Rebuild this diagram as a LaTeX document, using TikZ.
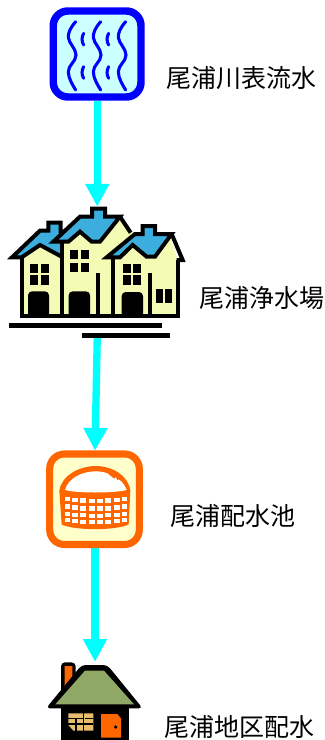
\documentclass[tikz,border=0pt]{standalone}
\usepackage{fontspec}
\newfontfamily\jpfont{Noto Sans CJK JP}
\usetikzlibrary{arrows.meta}
\definecolor{wblue}{HTML}{0000FF}
\definecolor{wfill}{HTML}{CCFFFF}
\definecolor{flow}{HTML}{00FFFF}
\definecolor{orng}{HTML}{FF6600}
\definecolor{cream}{HTML}{FFFFCC}
\definecolor{hwall}{HTML}{F4FBB4}
\definecolor{hroof}{HTML}{3BAEDD}
\definecolor{groof}{HTML}{8FA865}
\definecolor{tan}{HTML}{E6BE6E}
\tikzset{
  iconbox/.style={inner sep=0pt,outer sep=0pt,minimum width=#1},
  flowarrow/.style={draw=flow,line width=5.5pt,-{Triangle[width=17pt,length=17pt,fill=flow]}},
  lab/.style={font=\jpfont\fontsize{18.75pt}{20pt}\selectfont,anchor=west,inner sep=0pt,text=black},
  wave/.style={draw=wblue,line width=2.3pt,line cap=round},
  hline/.style={draw=black,line width=3pt,line join=miter},
}
\begin{document}
\begin{tikzpicture}[x=0.75pt,y=-0.75pt]
\useasboundingbox (0,0) rectangle (325,740);
% anchors for connectors
\node[iconbox=71.6pt,minimum height=70.5pt] (water) at (97.25,54) {};
\node[iconbox=131pt,minimum height=98.1pt] (plant) at (97.25,272) {};
\node[iconbox=72.8pt,minimum height=73pt] (tank) at (95,499.3) {};
\node[iconbox=72.8pt,minimum height=58.7pt] (home) at (95,700.9) {};

% connectors
\draw[flowarrow] (water.south) -- (plant.north);
\draw[flowarrow] (plant.south) -- (tank.north);
\draw[flowarrow] (tank.south) -- (home.north);

% water icon
\draw[draw=wblue,fill=wfill,line width=5.6pt,rounded corners=11pt] (53.25,11) rectangle (141,97);
\begin{scope}[shift={(0,0)},x=0.25pt,y=-0.25pt]
  \foreach \dx in {0,75,150}{
    \draw[wave] (227+\dx,65) .. controls (212+\dx,82) and (204+\dx,98) .. (205+\dx,112)
       .. controls (206+\dx,130) and (228+\dx,145) .. (228+\dx,165)
       .. controls (228+\dx,185) and (205+\dx,195) .. (205+\dx,215)
       .. controls (205+\dx,235) and (218+\dx,255) .. (227+\dx,270);
  }
  \foreach \dx/\dy in {0/0,75/0,0/100,75/100}{
    \draw[wave] (251+\dx,100+\dy) .. controls (244+\dx,112+\dy) and (245+\dx,125+\dy) .. (251+\dx,135+\dy);
  }
\end{scope}

% houses
\begin{scope}[shift={(0,200)},x=0.25pt,y=-0.25pt]
  \fill[hwall] (65,175) -- (120,135) -- (190,125) -- (240,95) -- (300,125) -- (360,55) -- (390,95) -- (510,115) -- (533,180) -- (533,348) -- (65,348) -- cycle;
  % left roof
  \draw[hline,fill=hroof] (36,172) -- (120,92) -- (145,92) -- (145,68) -- (182,68) -- (182,95) -- (215,95) -- (185,170) -- (120,135) -- (65,172) -- cycle;
  % centre wall
  \fill[hwall] (190,125) -- (240,95) -- (300,125) -- (360,60) -- (390,100) -- (340,170) -- (340,348) -- (190,348) -- cycle;
  % centre roof
  \draw[hline,fill=hroof] (160,125) -- (240,50) -- (276,50) -- (276,26) -- (315,26) -- (315,50) -- (360,50) -- (300,125) -- (275,125) -- (240,95) -- (205,125) -- cycle;
  \draw[hline] (360,50) -- (392,98);
  % right wall
  \fill[hwall] (340,172) -- (398,135) -- (440,170) -- (465,170) -- (510,112) -- (533,180) -- (533,348) -- (340,348) -- cycle;
  % right roof
  \draw[hline,fill=hroof] (320,172) -- (405,102) -- (428,102) -- (428,78) -- (465,78) -- (465,102) -- (515,102) -- (465,170) -- (440,170) -- (398,135) -- (360,172) -- cycle;
  \draw[hline] (515,102) -- (548,180) -- (530,180);
  % walls
  \draw[hline] (65,172) -- (65,348) -- (535,348) -- (535,180);
  \draw[hline] (187,125) -- (187,348);
  \draw[hline] (340,172) -- (340,348);
  \draw[hline] (295,220) -- (295,348);
  \draw[hline] (451,220) -- (451,348);
  % windows
  \fill (90,192) rectangle (114,219); \fill (123,192) rectangle (147,219);
  \fill (90,225) rectangle (114,255); \fill (123,225) rectangle (147,255);
  \fill (210,150) rectangle (234,177); \fill (243,150) rectangle (267,177);
  \fill (210,188) rectangle (234,216); \fill (243,188) rectangle (267,216);
  \fill (369,192) rectangle (393,219); \fill (399,192) rectangle (423,219);
  \fill (369,225) rectangle (393,255); \fill (399,225) rectangle (423,255);
  \fill (468,267) rectangle (490,309); \fill (495,267) rectangle (517,309);
  % doors
  \fill[rounded corners=3pt] (84,352) -- (84,274) -- (147,274) -- (147,352) -- cycle;
  \fill[rounded corners=3pt] (206,352) -- (206,274) -- (270,274) -- (270,352) -- cycle;
  \fill[rounded corners=3pt] (365,352) -- (365,276) -- (429,276) -- (429,352) -- cycle;
  % ground
  \fill (27,369) rectangle (486,384);
  \fill (246,399) rectangle (510,414);
\end{scope}

% reservoir
\draw[draw=orng,fill=cream,line width=5.3pt,rounded corners=11pt] (49.7,454) rectangle (139.3,544.5);
\begin{scope}[shift={(30,430)},x=0.25pt,y=-0.25pt]
  % silhouette
  \fill[orng] (88,182) .. controls (95,135) and (150,108) .. (197,108)
     .. controls (245,108) and (295,135) .. (301,182)
     -- (296,284) .. controls (250,302) and (140,302) .. (95,284) -- cycle;
  % dome
  \fill[white] (105,180) .. controls (115,142) and (160,124) .. (197,124)
     .. controls (210,124) and (222,126) .. (232,130) -- (252,146) -- (258,142) -- (262,152) -- (266,148)
     .. controls (278,156) and (286,168) .. (290,180)
     .. controls (250,190) and (140,190) .. (105,180) -- cycle;
  % cells
  \foreach \xa/\xb in {105/119,126/144,151/169,176/194,201/219,226/244,251/269,276/290}{
    \pgfmathsetmacro{\bend}{7*(1-(((\xa+\xb)/2-197)/95)^2)}
    \foreach \ya/\yb in {199/213,222/236,244/256,264/275}{
      \fill[white] (\xa,\ya+\bend) rectangle (\xb,\yb+\bend);
    }
  }
\end{scope}

% house
\begin{scope}[shift={(30,640)},x=0.25pt,y=-0.25pt]
  \fill[rounded corners=3pt] (93,160) -- (93,67) -- (137,67) -- (137,160) -- cycle;
  \fill[orng] (104,78) -- (127,78) -- (127,110) -- (104,140) -- cycle;
  \fill[black] (93,200) rectangle (298,300);
  \fill[rounded corners=3pt] (48,205) -- (155,75) -- (232,75) -- (338,205) -- cycle;
  \fill[groof] (76,193) -- (165,92) -- (222,92) -- (312,193) -- cycle;
  \fill[tan] (115,220) -- (190,220) -- (190,272) -- (130,272) -- (115,255) -- cycle;
  \draw[black,line width=0.9pt] (115,235) -- (160,235) (115,252) -- (190,252) (160,220) -- (160,272) (138,235) -- (138,272) (165,235) -- (190,235);
  \fill[orng] (213,222) -- (262,222) -- (273,235) -- (273,293) -- (213,293) -- cycle;
  \fill[black] (257,261) circle (5.5);
\end{scope}

% labels
\node[lab] (l1) at (166,78) {尾浦川表流水};
\node[lab] (l2) at (199,298) {尾浦浄水場};
\node[lab] (l3) at (170,516) {尾浦配水池};
\node[lab] (l4) at (164,727) {尾浦地区配水};
\end{tikzpicture}
\end{document}
